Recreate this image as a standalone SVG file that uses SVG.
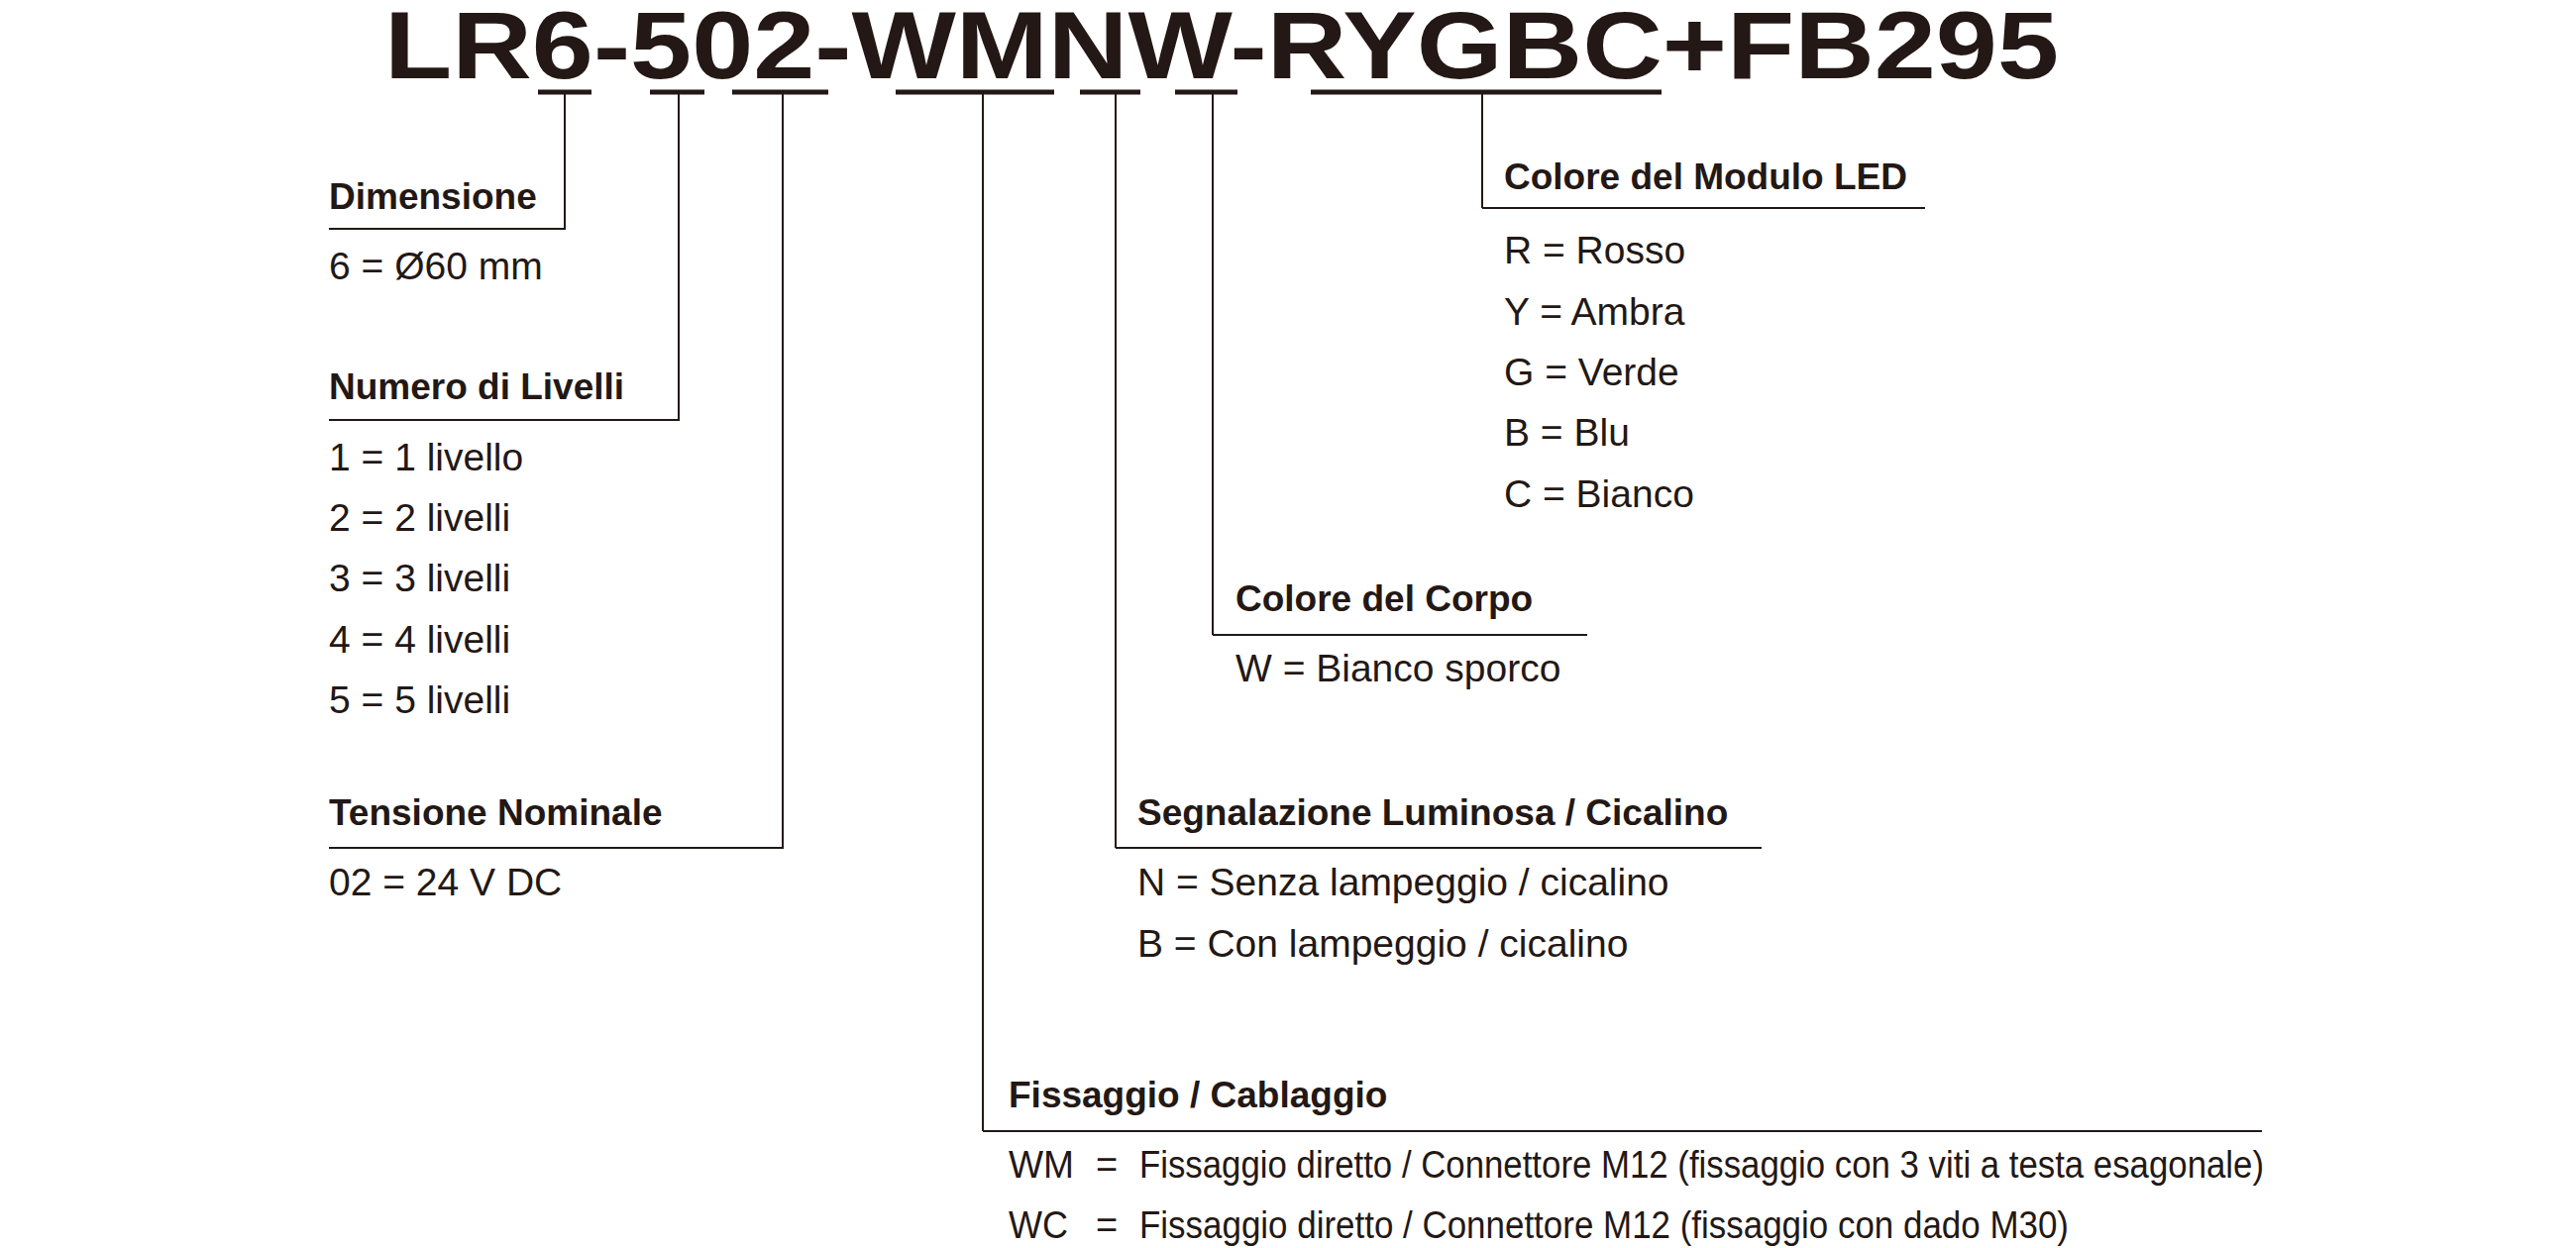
<svg xmlns="http://www.w3.org/2000/svg" width="2600" height="1260" viewBox="0 0 2600 1260">
<style>
text{font-family:"Liberation Sans",Arial,sans-serif;fill:#231815}
.t{font-weight:bold;font-size:96px}
.h{font-weight:bold;font-size:37px}
.v{font-size:39px}
.n{font-size:38px}
.c line{stroke:#231815;stroke-width:2}
.u{stroke:#231815;stroke-width:5}
</style>
<rect width="2600" height="1260" fill="#fff"/>
<g id="title">
<text class="t" x="388" y="79" textLength="1690" lengthAdjust="spacingAndGlyphs">LR6-502-WMNW-RYGBC+FB295</text>
<line class="u" x1="543" y1="93" x2="597" y2="93"/>
<line class="u" x1="656" y1="93" x2="711" y2="93"/>
<line class="u" x1="739" y1="93" x2="836" y2="93"/>
<line class="u" x1="904" y1="93" x2="1064" y2="93"/>
<line class="u" x1="1090" y1="93" x2="1151" y2="93"/>
<line class="u" x1="1186" y1="93" x2="1249" y2="93"/>
<line class="u" x1="1323" y1="93" x2="1677" y2="93"/>
</g>
<g class="c" id="connectors">
<line x1="570" y1="95" x2="570" y2="231"/><line x1="332" y1="231" x2="571" y2="231"/>
<line x1="685" y1="95" x2="685" y2="424"/><line x1="332" y1="424" x2="686" y2="424"/>
<line x1="790" y1="95" x2="790" y2="856"/><line x1="332" y1="856" x2="791" y2="856"/>
<line x1="992" y1="95" x2="992" y2="1142"/><line x1="992" y1="1142" x2="2283" y2="1142"/>
<line x1="1126" y1="95" x2="1126" y2="856"/><line x1="1126" y1="856" x2="1778" y2="856"/>
<line x1="1224" y1="95" x2="1224" y2="641"/><line x1="1224" y1="641" x2="1602" y2="641"/>
<line x1="1496" y1="95" x2="1496" y2="210"/><line x1="1496" y1="210" x2="1943" y2="210"/>
</g>
<g id="dimensione"><text class="h" x="332" y="211">Dimensione</text><text class="v" x="332" y="282">6 = Ø60 mm</text></g>
<g id="livelli"><text class="h" x="332" y="403">Numero di Livelli</text>
<text class="v" x="332" y="475">1 = 1 livello</text><text class="v" x="332" y="536">2 = 2 livelli</text><text class="v" x="332" y="597">3 = 3 livelli</text><text class="v" x="332" y="659">4 = 4 livelli</text><text class="v" x="332" y="720">5 = 5 livelli</text></g>
<g id="tensione"><text class="h" x="332" y="833">Tensione Nominale</text><text class="v" x="332" y="904">02 = 24 V DC</text></g>
<g id="led"><text class="h" x="1518" y="191">Colore del Modulo LED</text>
<text class="v" x="1518" y="266">R = Rosso</text><text class="v" x="1518" y="328">Y = Ambra</text><text class="v" x="1518" y="389">G = Verde</text><text class="v" x="1518" y="450">B = Blu</text><text class="v" x="1518" y="512">C = Bianco</text></g>
<g id="corpo"><text class="h" x="1247" y="617">Colore del Corpo</text><text class="v" x="1247" y="688">W = Bianco sporco</text></g>
<g id="segnalazione"><text class="h" x="1148" y="833">Segnalazione Luminosa / Cicalino</text>
<text class="v" x="1148" y="904">N = Senza lampeggio / cicalino</text><text class="v" x="1148" y="966">B = Con lampeggio / cicalino</text></g>
<g id="fissaggio"><text class="h" x="1018" y="1118">Fissaggio / Cablaggio</text>
<text class="n" x="1018" y="1189" textLength="66" lengthAdjust="spacingAndGlyphs">WM</text><text class="n" x="1106" y="1189">=</text><text class="n" x="1150" y="1189" textLength="1135" lengthAdjust="spacingAndGlyphs">Fissaggio diretto / Connettore M12 (fissaggio con 3 viti a testa esagonale)</text>
<text class="n" x="1018" y="1250" textLength="60" lengthAdjust="spacingAndGlyphs">WC</text><text class="n" x="1106" y="1250">=</text><text class="n" x="1150" y="1250" textLength="938" lengthAdjust="spacingAndGlyphs">Fissaggio diretto / Connettore M12 (fissaggio con dado M30)</text></g>
</svg>
